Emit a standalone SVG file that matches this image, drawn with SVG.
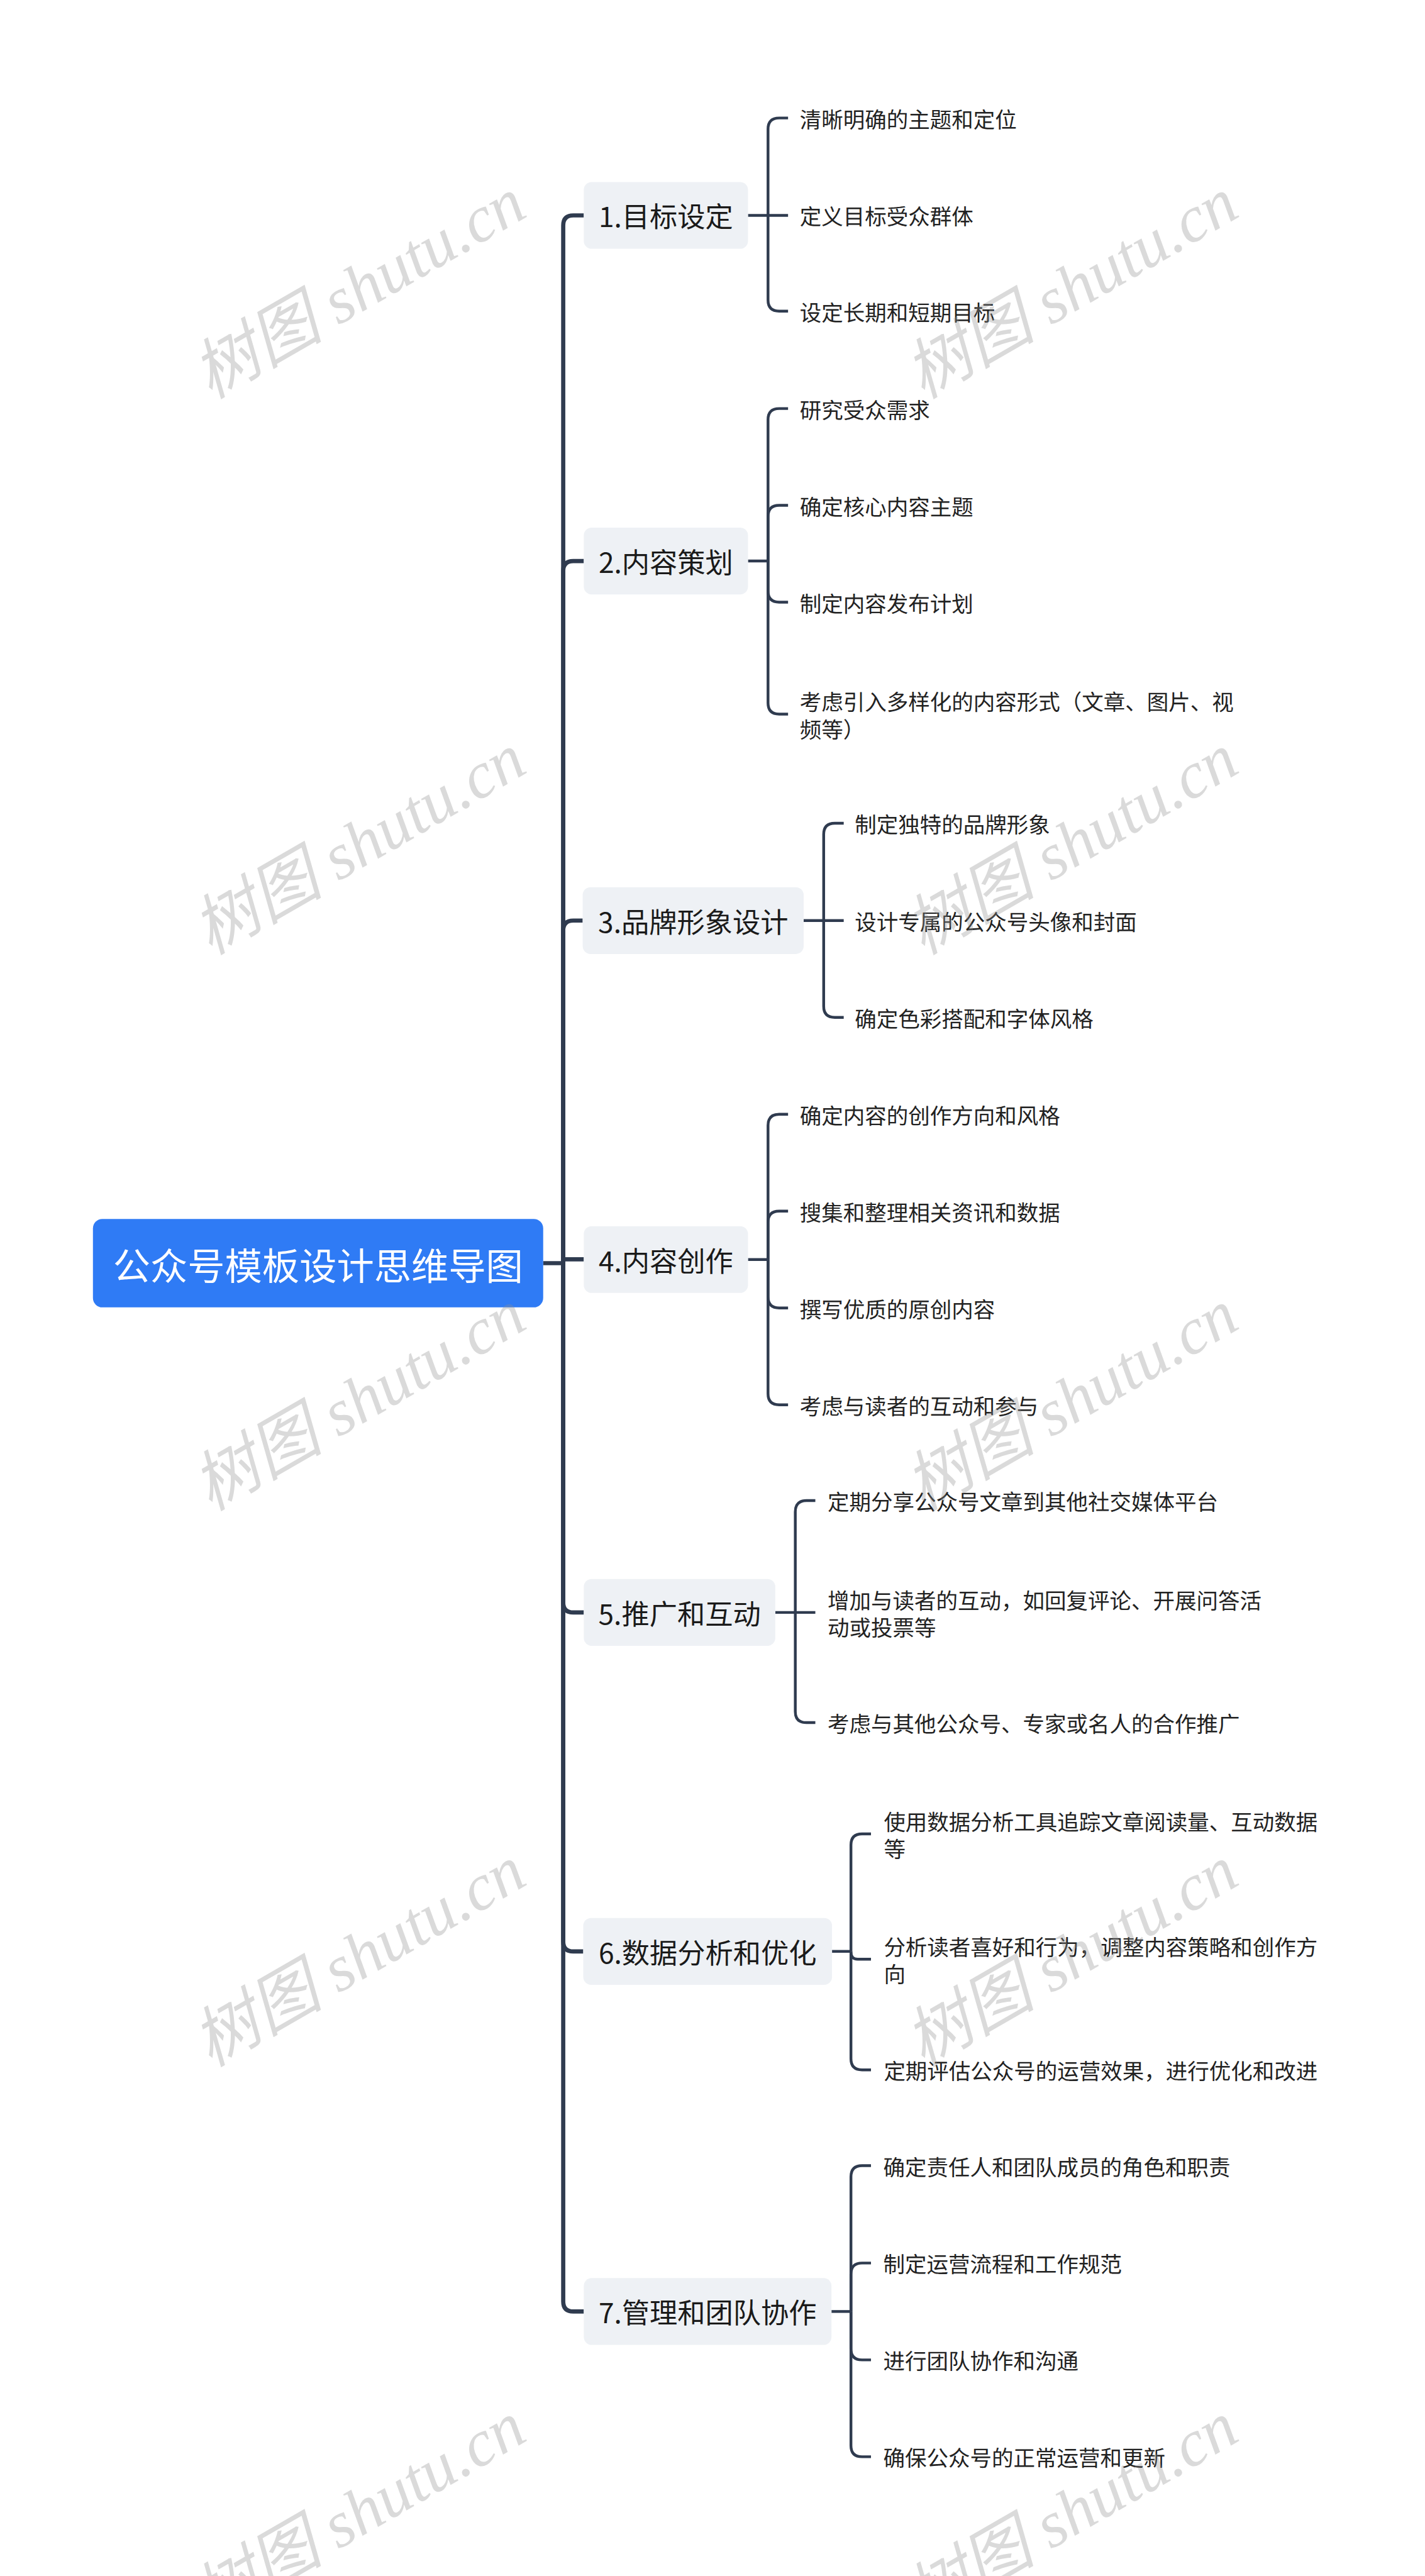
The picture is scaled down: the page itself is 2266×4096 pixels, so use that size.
<svg xmlns="http://www.w3.org/2000/svg" width="2266" height="4096" viewBox="0 0 2266 4096">
<style>
.bg{fill:#ffffff}
.c{fill:none;stroke:#2f3b4f;stroke-linejoin:round}
.tr{stroke-width:7.5}
.sb{stroke-width:5}
.rootbox{fill:#2f7bf5}
.roottxt{font-family:"Noto Sans CJK SC","Noto Sans",sans-serif;font-size:67px;fill:#ffffff;text-anchor:middle;dominant-baseline:central}
.l1box{fill:#eef1f5}
.l1txt{font-family:"Noto Sans CJK SC","Noto Sans",sans-serif;font-size:50px;fill:#1a1a1a;text-anchor:middle;dominant-baseline:central}
.lf{font-family:"Noto Sans CJK SC","Noto Sans",sans-serif;font-size:39px;fill:#222222;dominant-baseline:central}
.wm{font-family:"Liberation Serif","Noto Sans CJK SC",serif;font-style:italic;font-size:118px;fill:#8f8f8f;fill-opacity:0.33;text-anchor:middle;dominant-baseline:central}
</style>
<rect class="bg" x="0" y="0" width="2266" height="4096"/>
<g transform="scale(0.885)">
<g id="connectors">
  <path class="c tr" d="M976 2269.5 H1012"/>
  <path class="c tr" d="M1012 2269 V405 Q1012 387 1030 387 H1049"/>
  <path class="c tr" d="M1012 2269 V1026 Q1012 1008 1030 1008 H1049"/>
  <path class="c tr" d="M1012 2269 V1672 Q1012 1654 1030 1654 H1047"/>
  <path class="c tr" d="M1012 2262.5 H1049"/>
  <path class="c tr" d="M1012 2269 V2879 Q1012 2897 1030 2897 H1049"/>
  <path class="c tr" d="M1012 2269 V3488 Q1012 3506 1030 3506 H1048"/>
  <path class="c tr" d="M1012 2269 V4135 Q1012 4153 1030 4153 H1049"/>
  <path class="c sb" d="M1344 387 H1380"/>
  <path class="c sb" d="M1380 387 V232 Q1380 212 1400 212 H1416"/>
  <path class="c sb" d="M1380 387 H1416"/>
  <path class="c sb" d="M1380 387 V539 Q1380 559 1400 559 H1416"/>
  <path class="c sb" d="M1344 1008 H1380"/>
  <path class="c sb" d="M1380 1008 V754 Q1380 734 1400 734 H1416"/>
  <path class="c sb" d="M1380 1008 V928 Q1380 908 1400 908 H1416"/>
  <path class="c sb" d="M1380 1008 V1062 Q1380 1082 1400 1082 H1416"/>
  <path class="c sb" d="M1380 1008 V1263 Q1380 1283 1400 1283 H1416"/>
  <path class="c sb" d="M1444 1654 H1480"/>
  <path class="c sb" d="M1480 1654 V1499 Q1480 1479 1500 1479 H1516"/>
  <path class="c sb" d="M1480 1654 H1516"/>
  <path class="c sb" d="M1480 1654 V1808 Q1480 1828 1500 1828 H1516"/>
  <path class="c sb" d="M1344 2263 H1380"/>
  <path class="c sb" d="M1380 2263 V2022 Q1380 2002 1400 2002 H1416"/>
  <path class="c sb" d="M1380 2263 V2196 Q1380 2176 1400 2176 H1416"/>
  <path class="c sb" d="M1380 2263 V2330 Q1380 2350 1400 2350 H1416"/>
  <path class="c sb" d="M1380 2263 V2504 Q1380 2524 1400 2524 H1416"/>
  <path class="c sb" d="M1393 2897 H1429"/>
  <path class="c sb" d="M1429 2897 V2716 Q1429 2696 1449 2696 H1465"/>
  <path class="c sb" d="M1429 2897 H1465"/>
  <path class="c sb" d="M1429 2897 V3075 Q1429 3095 1449 3095 H1465"/>
  <path class="c sb" d="M1495 3506 H1529"/>
  <path class="c sb" d="M1529 3506 V3315 Q1529 3295 1549 3295 H1565"/>
  <path class="c sb" d="M1529 3506 V3508 Q1529 3520 1541 3520 H1565"/>
  <path class="c sb" d="M1529 3506 V3699 Q1529 3719 1549 3719 H1565"/>
  <path class="c sb" d="M1494 4153 H1529"/>
  <path class="c sb" d="M1529 4153 V3911 Q1529 3891 1549 3891 H1565"/>
  <path class="c sb" d="M1529 4153 V4086 Q1529 4066 1549 4066 H1565"/>
  <path class="c sb" d="M1529 4153 V4220 Q1529 4240 1549 4240 H1565"/>
  <path class="c sb" d="M1529 4153 V4394 Q1529 4414 1549 4414 H1565"/>
</g>
<g id="root">
  <rect class="rootbox" x="167" y="2190" width="809" height="159" rx="17"/>
  <text class="roottxt" x="571.5" y="2269.5">公众号模板设计思维导图</text>
</g>
<g id="n1">
  <rect class="l1box" x="1049" y="327" width="295" height="120" rx="14"/>
  <text class="l1txt" x="1196.5" y="387">1.目标设定</text>
</g>
<g id="n1-1"><text class="lf" x="1437" y="212">清晰明确的主题和定位</text></g>
<g id="n1-2"><text class="lf" x="1437" y="387">定义目标受众群体</text></g>
<g id="n1-3"><text class="lf" x="1437" y="559">设定长期和短期目标</text></g>
<g id="n2">
  <rect class="l1box" x="1049" y="948" width="295" height="120" rx="14"/>
  <text class="l1txt" x="1196.5" y="1008">2.内容策划</text>
</g>
<g id="n2-1"><text class="lf" x="1437" y="734">研究受众需求</text></g>
<g id="n2-2"><text class="lf" x="1437" y="908">确定核心内容主题</text></g>
<g id="n2-3"><text class="lf" x="1437" y="1082">制定内容发布计划</text></g>
<g id="n2-4"><text class="lf" x="1437" y="1259">考虑引入多样化的内容形式（文章、图片、视</text><text class="lf" x="1437" y="1308">频等）</text></g>
<g id="n3">
  <rect class="l1box" x="1047" y="1594" width="397" height="120" rx="14"/>
  <text class="l1txt" x="1245.5" y="1654">3.品牌形象设计</text>
</g>
<g id="n3-1"><text class="lf" x="1536" y="1479">制定独特的品牌形象</text></g>
<g id="n3-2"><text class="lf" x="1536" y="1654">设计专属的公众号头像和封面</text></g>
<g id="n3-3"><text class="lf" x="1536" y="1828">确定色彩搭配和字体风格</text></g>
<g id="n4">
  <rect class="l1box" x="1049" y="2203" width="295" height="120" rx="14"/>
  <text class="l1txt" x="1196.5" y="2263">4.内容创作</text>
</g>
<g id="n4-1"><text class="lf" x="1437" y="2002">确定内容的创作方向和风格</text></g>
<g id="n4-2"><text class="lf" x="1437" y="2176">搜集和整理相关资讯和数据</text></g>
<g id="n4-3"><text class="lf" x="1437" y="2350">撰写优质的原创内容</text></g>
<g id="n4-4"><text class="lf" x="1437" y="2524">考虑与读者的互动和参与</text></g>
<g id="n5">
  <rect class="l1box" x="1049" y="2837" width="344" height="120" rx="14"/>
  <text class="l1txt" x="1221" y="2897">5.推广和互动</text>
</g>
<g id="n5-1"><text class="lf" x="1487" y="2696">定期分享公众号文章到其他社交媒体平台</text></g>
<g id="n5-2"><text class="lf" x="1487" y="2873">增加与读者的互动，如回复评论、开展问答活</text><text class="lf" x="1487" y="2922">动或投票等</text></g>
<g id="n5-3"><text class="lf" x="1487" y="3095">考虑与其他公众号、专家或名人的合作推广</text></g>
<g id="n6">
  <rect class="l1box" x="1048" y="3446" width="447" height="120" rx="14"/>
  <text class="l1txt" x="1271.5" y="3506">6.数据分析和优化</text>
</g>
<g id="n6-1"><text class="lf" x="1588" y="3271">使用数据分析工具追踪文章阅读量、互动数据</text><text class="lf" x="1588" y="3320">等</text></g>
<g id="n6-2"><text class="lf" x="1588" y="3496">分析读者喜好和行为，调整内容策略和创作方</text><text class="lf" x="1588" y="3545">向</text></g>
<g id="n6-3"><text class="lf" x="1588" y="3719">定期评估公众号的运营效果，进行优化和改进</text></g>
<g id="n7">
  <rect class="l1box" x="1049" y="4093" width="445" height="120" rx="14"/>
  <text class="l1txt" x="1271.5" y="4153">7.管理和团队协作</text>
</g>
<g id="n7-1"><text class="lf" x="1587" y="3891">确定责任人和团队成员的角色和职责</text></g>
<g id="n7-2"><text class="lf" x="1587" y="4066">制定运营流程和工作规范</text></g>
<g id="n7-3"><text class="lf" x="1587" y="4240">进行团队协作和沟通</text></g>
<g id="n7-4"><text class="lf" x="1587" y="4414">确保公众号的正常运营和更新</text></g>
<g id="watermarks">
  <text class="wm" transform="translate(645 518) rotate(-30)">树图 shutu.cn</text>
  <text class="wm" transform="translate(1925 518) rotate(-30)">树图 shutu.cn</text>
  <text class="wm" transform="translate(645 1517) rotate(-30)">树图 shutu.cn</text>
  <text class="wm" transform="translate(1925 1517) rotate(-30)">树图 shutu.cn</text>
  <text class="wm" transform="translate(645 2516) rotate(-30)">树图 shutu.cn</text>
  <text class="wm" transform="translate(1925 2516) rotate(-30)">树图 shutu.cn</text>
  <text class="wm" transform="translate(645 3515) rotate(-30)">树图 shutu.cn</text>
  <text class="wm" transform="translate(1925 3515) rotate(-30)">树图 shutu.cn</text>
  <text class="wm" transform="translate(645 4514) rotate(-30)">树图 shutu.cn</text>
  <text class="wm" transform="translate(1925 4514) rotate(-30)">树图 shutu.cn</text>
</g>
</g>
</svg>
